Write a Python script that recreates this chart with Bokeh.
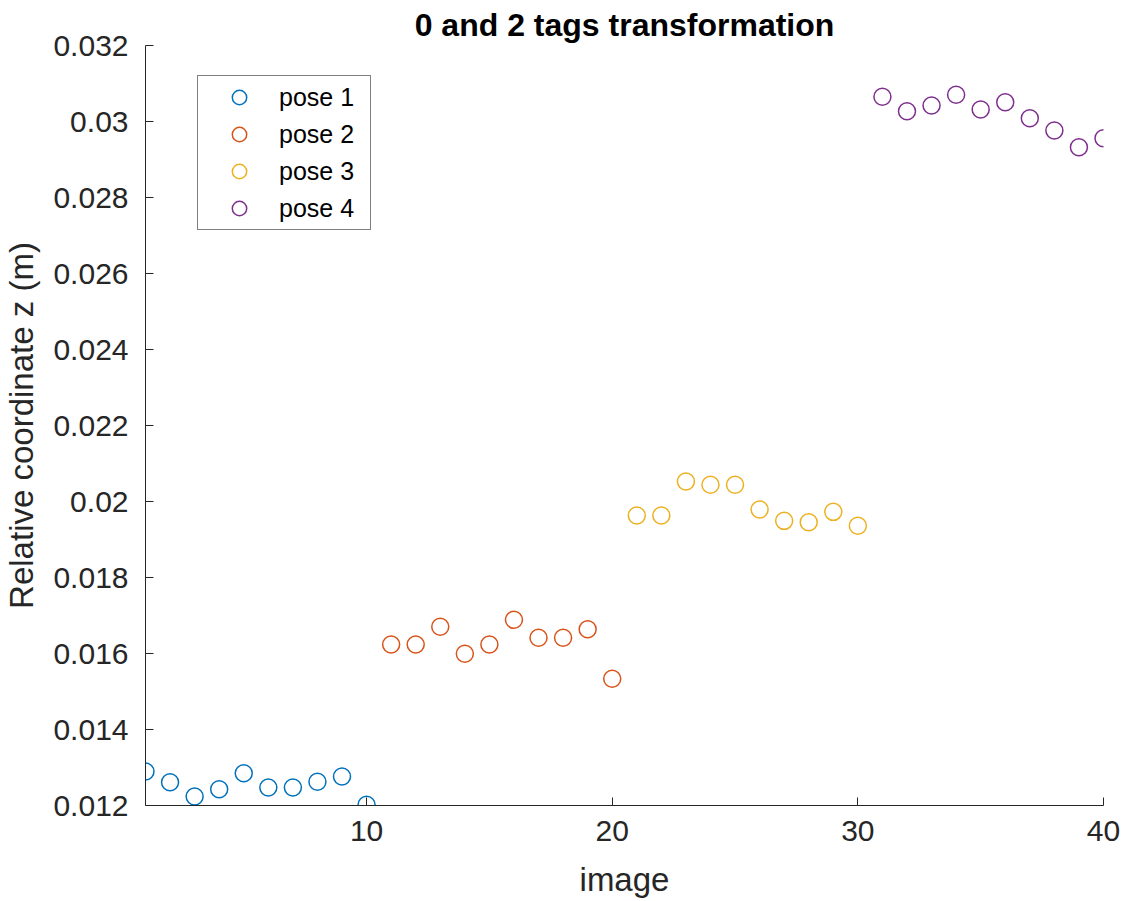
from bokeh.plotting import figure
from bokeh.models import Range1d, FixedTicker, CustomJSTickFormatter, Legend, LegendItem
from bokeh.embed import file_html
from bokeh.resources import INLINE

# ---- data ----
pose1_img = [1, 2, 3, 4, 5, 6, 7, 8, 9, 10]
pose1_z = [0.012895, 0.012613, 0.012237, 0.012429, 0.01285, 0.012474, 0.012474, 0.012623, 0.012763, 0.012018]
pose2_img = [11, 12, 13, 14, 15, 16, 17, 18, 19, 20]
pose2_z = [0.016237, 0.016237, 0.016703, 0.015992, 0.016237, 0.016886, 0.016413, 0.016413, 0.01664, 0.015334]
pose3_img = [21, 22, 23, 24, 25, 26, 27, 28, 29, 30]
pose3_z = [0.019632, 0.019632, 0.020526, 0.02044, 0.02044, 0.019789, 0.019491, 0.019456, 0.019728, 0.01936]
pose4_img = [31, 32, 33, 34, 35, 36, 37, 38, 39, 40]
pose4_z = [0.03065, 0.030271, 0.030421, 0.030702, 0.030316, 0.030508, 0.030087, 0.029763, 0.029324, 0.029561]
series_names = ["pose 1", "pose 2", "pose 3", "pose 4"]
x_ticks = [10, 20, 30, 40]
y_ticks = [0.012, 0.014, 0.016, 0.018, 0.02, 0.022, 0.024, 0.026, 0.028, 0.03, 0.032]

colors = ["#0072BD", "#D95319", "#EDB120", "#7E2F8E"]
FONT = "Liberation Sans"
AX = "#262626"

p = figure(width=1123, height=901, output_backend="svg", toolbar_location=None,
           x_range=Range1d(1, 40), y_range=Range1d(0.012, 0.032),
           min_border_left=145, min_border_right=20, min_border_top=45, min_border_bottom=96,
           title="0 and 2 tags transformation")
p.outline_line_color = None
p.xgrid.visible = False
p.ygrid.visible = False
p.background_fill_color = "white"
p.border_fill_color = "white"

p.title.align = "center"
p.title.text_font = FONT
p.title.text_font_size = "32px"
p.title.text_font_style = "bold"
p.title.text_color = "black"
p.title.standoff = 6

for ax in (p.xaxis[0], p.yaxis[0]):
    ax.axis_line_color = AX
    ax.major_tick_line_color = AX
    ax.major_tick_in = 8
    ax.major_tick_out = 0
    ax.minor_tick_line_color = None
    ax.major_label_text_font = FONT
    ax.major_label_text_font_size = "30px"
    ax.major_label_text_color = AX
    ax.axis_label_text_font = FONT
    ax.axis_label_text_font_size = "33px"
    ax.axis_label_text_font_style = "normal"
    ax.axis_label_text_color = AX

p.xaxis[0].ticker = FixedTicker(ticks=x_ticks)
p.yaxis[0].ticker = FixedTicker(ticks=y_ticks)
p.yaxis[0].formatter = CustomJSTickFormatter(code="return parseFloat(tick.toFixed(4)).toString();")
p.xaxis[0].axis_label = "image"
p.yaxis[0].axis_label = "Relative coordinate z (m)"
p.xaxis[0].major_label_standoff = 15
p.yaxis[0].major_label_standoff = 17
p.xaxis[0].axis_label_standoff = 17
p.yaxis[0].axis_label_standoff = 10

xs = [pose1_img, pose2_img, pose3_img, pose4_img]
ys = [pose1_z, pose2_z, pose3_z, pose4_z]
items = []
for xv, yv, c, name in zip(xs, ys, colors, series_names):
    r = p.scatter(xv, yv, marker="circle", size=17, fill_color=None,
                  line_color=c, line_width=1.5)
    items.append(LegendItem(label=name, renderers=[r]))

legend = Legend(items=items, location=(52, 575))
legend.border_line_color = "black"
legend.border_line_width = 1
legend.background_fill_color = "white"
legend.background_fill_alpha = 1
legend.padding = 3
legend.spacing = 1
legend.margin = 0
legend.glyph_width = 76
legend.glyph_height = 36
legend.label_height = 36
legend.label_width = 88
legend.label_standoff = 2
legend.label_text_font = FONT
legend.label_text_font_size = "25px"
legend.label_text_color = "black"
p.add_layout(legend, "center")

open("out.html", "w").write(file_html(p, INLINE))
